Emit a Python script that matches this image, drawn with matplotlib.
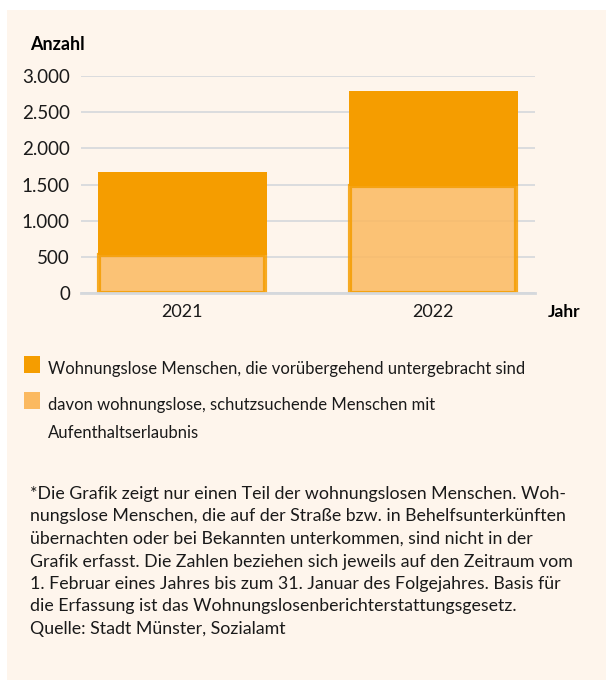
import matplotlib.pyplot as plt
from matplotlib.patches import Rectangle

years = ['2021', '2022']
total = [1673, 2792]
schutz = [525, 1483]
yticks = [0, 500, 1000, 1500, 2000, 2500, 3000]
ytick_labels = ['0', '500', '1.000', '1.500', '2.000', '2.500', '3.000']
legend_labels = ['Wohnungslose Menschen, die vorübergehend untergebracht sind',
                 'davon wohnungslose, schutzsuchende Menschen mit\nAufenthaltserlaubnis']
footnote = ('*Die Grafik zeigt nur einen Teil der wohnungslosen Menschen. Woh-\n'
            'nungslose Menschen, die auf der Straße bzw. in Behelfsunterkünften\n'
            'übernachten oder bei Bekannten unterkommen, sind nicht in der\n'
            'Grafik erfasst. Die Zahlen beziehen sich jeweils auf den Zeitraum vom\n'
            '1. Februar eines Jahres bis zum 31. Januar des Folgejahres. Basis für\n'
            'die Erfassung ist das Wohnungslosenberichterstattungsgesetz.\n'
            'Quelle: Stadt Münster, Sozialamt')

dark = '#f59d00'
light = '#fbb960'
cream = '#fef5ec'
W, H = 606, 680

plt.rcParams['font.family'] = ['Lato', 'DejaVu Sans']
fig = plt.figure(figsize=(W / 100, H / 100), dpi=100)
fig.patch.set_facecolor('white')
fig.patches.append(Rectangle((7 / W, 0), 1, 1 - 10 / H, transform=fig.transFigure,
                             facecolor=cream, edgecolor='none', zorder=-10))

# axes: x from 81 to 535 px, y=0 at 293 px, y=3000 at 76 px
ax = fig.add_axes([81 / W, 1 - 293 / H, (535 - 81) / W, (293 - 76) / H])
ax.set_facecolor('none')
ax.set_ylim(0, 3000)
ax.set_xlim(-0.5, 1.5)
xpos = [182, 433]
xs = [(p - 81) / (535 - 81) * 2 - 0.5 for p in xpos]
bw = 169 / (535 - 81) * 2

upper = [t - s for t, s in zip(total, schutz)]
ax.bar(xs, upper, bottom=schutz, width=bw, color=dark, zorder=2)
ax.bar(xs, schutz, width=bw - 0.01, color=light, alpha=0.85, edgecolor=dark,
       linewidth=3, zorder=2)

ax.set_yticks(yticks)
ax.set_yticklabels(ytick_labels, fontsize=13.5, color='#1a1a1a')
ax.set_xticks(xs)
ax.set_xticklabels(years, fontsize=13, color='#1a1a1a')
ax.tick_params(length=0, pad=8)
ax.grid(axis='y', color='#d5d8dc', linewidth=1.2, zorder=0)
for s in ['top', 'right', 'left']:
    ax.spines[s].set_visible(False)
ax.spines['bottom'].set_color('#d5d8dc')
ax.spines['bottom'].set_linewidth(2)

fig.text(30 / W, 1 - 44 / H, 'Anzahl', fontsize=13, fontweight='bold', va='center')
fig.text(548 / W, 1 - 312 / H, 'Jahr', fontsize=12.5, fontweight='bold', va='center')

# legend
for lab, col, y in zip(legend_labels, [dark, light], [356, 392]):
    fig.patches.append(Rectangle((24 / W, 1 - (y + 17) / H), 16 / W, 17 / H,
                                 transform=fig.transFigure, facecolor=col, edgecolor='none'))
    fig.text(48 / W, 1 - (y + 5) / H, lab, fontsize=12, va='top', linespacing=1.9,
             color='#1a1a1a')

fig.text(30 / W, 1 - 486 / H, footnote, fontsize=12.8, va='top', linespacing=1.5,
         color='#1a1a1a')

fig.savefig('out.png', dpi=100, facecolor=fig.get_facecolor())
